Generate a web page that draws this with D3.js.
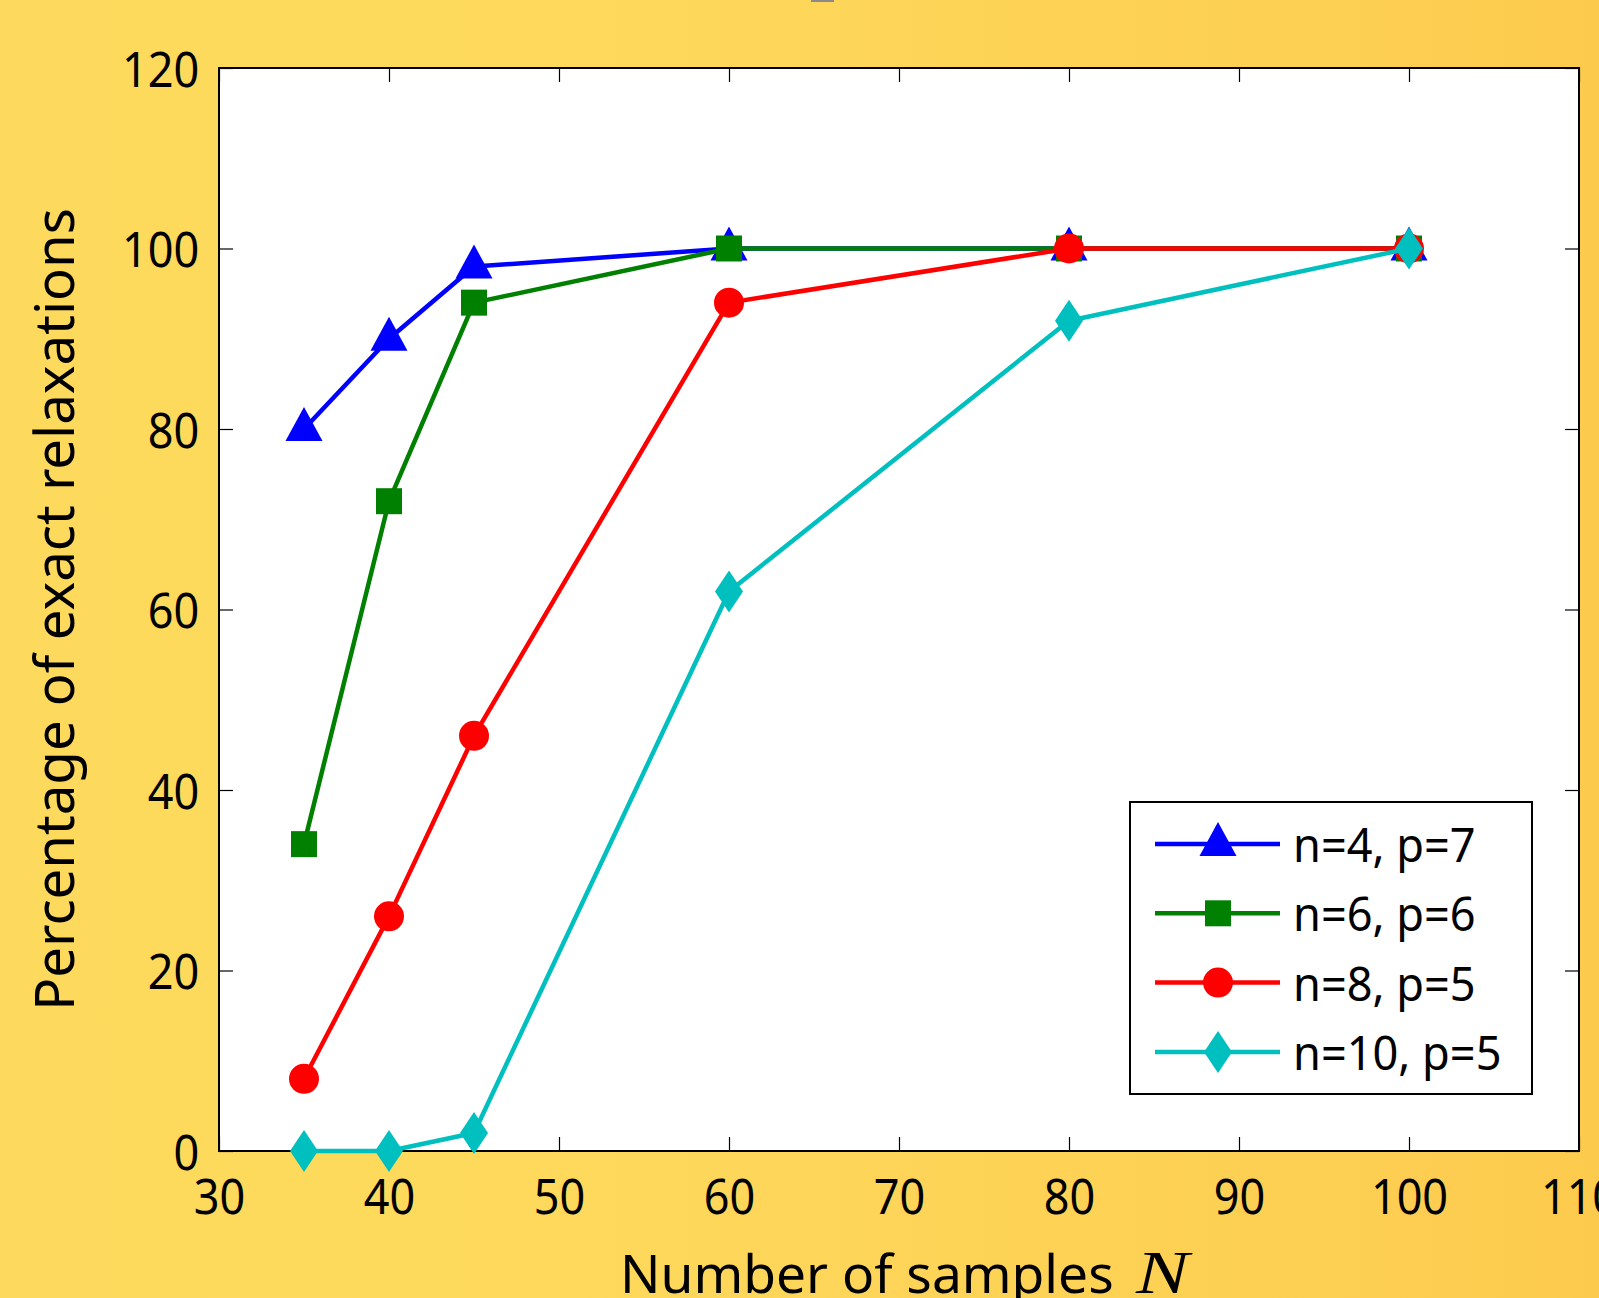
<!DOCTYPE html>
<html>
<head>
<meta charset="utf-8">
<script src="https://d3js.org/d3.v7.min.js"></script>
<style>
  html, body { margin: 0; padding: 0; overflow: hidden; }
  svg { display: block; }
  text { font-family: "Noto Sans", "Open Sans", sans-serif; fill: #000; }
</style>
</head>
<body>
<svg id="chart" width="1599" height="1298"></svg>
<script>
// data
var sampleCounts = [35, 40, 45, 60, 80, 100];
var seriesNames = ["n=4, p=7", "n=6, p=6", "n=8, p=5", "n=10, p=5"];
var n4p7 = [80, 90, 98, 100, 100, 100];
var n6p6 = [34, 72, 94, 100, 100, 100];
var n8p5 = [8, 26, 46, 94, 100, 100];
var n10p5 = [0, 0, 2, 62, 92, 100];
var xTickValues = [30, 40, 50, 60, 70, 80, 90, 100, 110];
var yTickValues = [0, 20, 40, 60, 80, 100, 120];

var W = 1599, H = 1298;
var plot = { left: 219, top: 68, right: 1579, bottom: 1151 };
var squeeze = 0.9; // the original tick font is narrower than Noto Sans

var svg = d3.select('#chart');

// yellow page background
var grad = svg.append('defs').append('linearGradient')
    .attr('id', 'bg').attr('x1', 0).attr('x2', 1).attr('y1', 0).attr('y2', 0);
grad.append('stop').attr('offset', 0).attr('stop-color', '#fdd95d');
grad.append('stop').attr('offset', 0.35).attr('stop-color', '#fed95c');
grad.append('stop').attr('offset', 1).attr('stop-color', '#fccb4e');
svg.append('rect').attr('width', W).attr('height', H).attr('fill', 'url(#bg)');

// small grey sliver of the cut-off title
svg.append('rect').attr('x', 811).attr('y', 0).attr('width', 23).attr('height', 2).attr('fill', '#8a8a8a');

var x = d3.scaleLinear().domain([30, 110]).range([plot.left, plot.right]);
var y = d3.scaleLinear().domain([0, 120]).range([plot.bottom, plot.top]);

svg.append('rect')
    .attr('x', plot.left).attr('y', plot.top)
    .attr('width', plot.right - plot.left).attr('height', plot.bottom - plot.top)
    .attr('fill', '#fff');

var tickLen = 14;

var xAxis = svg.append('g')
    .attr('transform', 'translate(0,' + plot.bottom + ')')
    .call(d3.axisBottom(x).tickValues(xTickValues).tickSizeInner(-tickLen).tickSizeOuter(0).tickPadding(28));
var yAxis = svg.append('g')
    .attr('transform', 'translate(' + plot.left + ',0)')
    .call(d3.axisLeft(y).tickValues(yTickValues).tickSizeInner(-tickLen).tickSizeOuter(0).tickPadding(22));
// mirrored ticks on top and right
svg.append('g')
    .attr('transform', 'translate(0,' + plot.top + ')')
    .call(d3.axisTop(x).tickValues(xTickValues).tickSizeInner(-tickLen).tickSizeOuter(0).tickFormat(''));
svg.append('g')
    .attr('transform', 'translate(' + plot.right + ',0)')
    .call(d3.axisRight(y).tickValues(yTickValues).tickSizeInner(-tickLen).tickSizeOuter(0).tickFormat(''));

svg.selectAll('.domain').remove();
svg.selectAll('.tick line').attr('stroke', '#000').attr('stroke-width', 1.2);
svg.selectAll('.tick text')
    .attr('font-size', 50)
    .attr('fill', '#000');
xAxis.selectAll('.tick text').attr('transform', 'scale(' + squeeze + ',1)');
yAxis.selectAll('.tick text')
    .attr('dy', '0.36em')
    .attr('transform', 'scale(' + squeeze + ',1)');

// axes box
svg.append('rect')
    .attr('x', plot.left).attr('y', plot.top)
    .attr('width', plot.right - plot.left).attr('height', plot.bottom - plot.top)
    .attr('fill', 'none').attr('stroke', '#000').attr('stroke-width', 2);

// axis labels
svg.append('text')
    .attr('transform', 'translate(620,1293) scale(1.025,1)')
    .attr('font-size', 52)
    .text('Number of samples');
svg.append('text')
    .attr('transform', 'translate(1136,1293) scale(1.28,1)')
    .style('font-family', '"Liberation Serif", "Times New Roman", serif')
    .style('font-style', 'italic')
    .attr('font-size', 62)
    .text('N');

svg.append('text')
    .attr('transform', 'translate(74,' + y(60) + ') rotate(-90) scale(1.01,1)')
    .attr('text-anchor', 'middle')
    .attr('font-size', 54)
    .text('Percentage of exact relaxations');

// marker shapes
function markerPath(kind) {
  if (kind === 'triangle') return 'M0,-22L18.5,12L-18.5,12Z';
  if (kind === 'square') return 'M-13,-13H13V13H-13Z';
  if (kind === 'diamond') return 'M0,-21L14,0L0,21L-14,0Z';
  return 'M15,0A15,15 0 1,1 -15,0A15,15 0 1,1 15,0Z';
}

var series = [
  { name: seriesNames[0], values: n4p7, color: '#0000ff', marker: 'triangle' },
  { name: seriesNames[1], values: n6p6, color: '#008000', marker: 'square' },
  { name: seriesNames[2], values: n8p5, color: '#ff0000', marker: 'circle' },
  { name: seriesNames[3], values: n10p5, color: '#00bfbf', marker: 'diamond' }
];

var line = d3.line()
    .x(function (d) { return x(d[0]); })
    .y(function (d) { return y(d[1]); });

series.forEach(function (s) {
  var pts = sampleCounts.map(function (c, i) { return [c, s.values[i]]; });
  var g = svg.append('g');
  g.append('path')
      .attr('d', line(pts))
      .attr('fill', 'none')
      .attr('stroke', s.color)
      .attr('stroke-width', 4.5)
      .attr('stroke-linejoin', 'round');
  g.selectAll('path.mk')
      .data(pts)
      .enter().append('path')
      .attr('class', 'mk')
      .attr('transform', function (d) { return 'translate(' + x(d[0]) + ',' + y(d[1]) + ')'; })
      .attr('d', markerPath(s.marker))
      .attr('fill', s.color);
});

// legend
var lg = { x: 1130, y: 802, w: 402, h: 292, row0: 844, rowStep: 69.3 };
svg.append('rect')
    .attr('x', lg.x).attr('y', lg.y).attr('width', lg.w).attr('height', lg.h)
    .attr('fill', '#fff').attr('stroke', '#000').attr('stroke-width', 2);

series.forEach(function (s, i) {
  var ry = lg.row0 + i * lg.rowStep;
  var g = svg.append('g').attr('transform', 'translate(0,' + ry + ')');
  g.append('line')
      .attr('x1', 1155).attr('x2', 1280)
      .attr('stroke', s.color).attr('stroke-width', 4.5);
  g.append('path')
      .attr('transform', 'translate(1218,0)')
      .attr('d', markerPath(s.marker))
      .attr('fill', s.color);
  g.append('text')
      .attr('transform', 'translate(1293,18) scale(0.94,1)')
      .attr('font-size', 48)
      .text(s.name);
});
</script>
</body>
</html>
